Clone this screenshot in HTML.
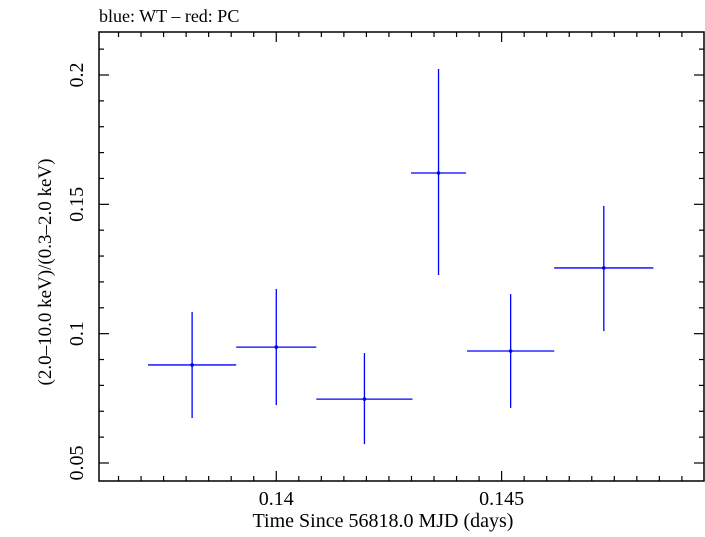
<!DOCTYPE html>
<html><head><meta charset="utf-8"><style>
body{margin:0;background:#fff;}
text{font-family:"Liberation Serif",serif;fill:#000;}
</style></head><body>
<svg id="chart" width="705" height="532" xmlns="http://www.w3.org/2000/svg">
<text x="99" y="22" font-size="18">blue: WT – red: PC</text>
<rect x="99" y="32" width="605" height="449" fill="none" stroke="#000" stroke-width="1.5"/>
<g id="ticks"></g>
<g id="series"></g>
<text x="383" y="527" font-size="20" text-anchor="middle">Time Since 56818.0 MJD (days)</text>
<text transform="translate(51,272) rotate(-90)" font-size="19" text-anchor="middle">(2.0–10.0 keV)/(0.3–2.0 keV)</text>
</svg>
<script>
const xCenters=[0.138133,0.14,0.141956,0.1436,0.1452,0.147267];
const xHalfWidths=[0.000978,0.000889,0.001067,0.000611,0.000967,0.0011];
const ratios=[0.0879,0.0948,0.0747,0.1621,0.0933,0.1254];
const ratioUpper=[0.1084,0.1173,0.0925,0.2023,0.1153,0.1494];
const ratioLower=[0.0674,0.0724,0.0573,0.1227,0.0713,0.101];
const xTickLabels=["0.14","0.145"];
const yTickLabels=["0.05","0.1","0.15","0.2"];
const L=99,R=704,T=32,B=481;
const x0=0.136067,x1=0.14949,y0=0.04304,y1=0.21662;
const X=v=>L+(v-x0)/(x1-x0)*(R-L);
const Y=v=>B-(v-y0)/(y1-y0)*(B-T);
const NS="http://www.w3.org/2000/svg";
function mk(tag,attrs,parent){const e=document.createElementNS(NS,tag);for(const k in attrs)e.setAttribute(k,attrs[k]);parent.appendChild(e);return e;}
const tg=document.getElementById('ticks');
for(let i=Math.ceil(x0/0.0005);i*0.0005<=x1;i++){
  const v=i*0.0005,major=i%10===0,len=major?10:5,px=X(v);
  const t1=mk('line',{x1:px,x2:px,y1:B,y2:B-len,stroke:'#000','stroke-width':1.2},tg);
  
  
  const t2=mk('line',{x1:px,x2:px,y1:T,y2:T+len,stroke:'#000','stroke-width':1.2},tg);
  
  
}
xTickLabels.forEach(s=>{
  const t=mk('text',{x:X(parseFloat(s)),y:505,'font-size':20,'text-anchor':'middle'},tg);
  t.textContent=s;
  
  
});
for(let i=Math.ceil(y0/0.01);i*0.01<=y1;i++){
  const v=i*0.01,major=i%5===0,len=major?10:5,py=Y(v);
  const t1=mk('line',{x1:L,x2:L+len,y1:py,y2:py,stroke:'#000','stroke-width':1.2},tg);
  
  
  const t2=mk('line',{x1:R,x2:R-len,y1:py,y2:py,stroke:'#000','stroke-width':1.2},tg);
  
  
}
yTickLabels.forEach(s=>{
  const py=Y(parseFloat(s));
  const t=mk('text',{transform:`translate(83,${py}) rotate(-90)`,'font-size':20,'text-anchor':'middle'},tg);
  t.textContent=s;
  
  
});
const sg=document.getElementById('series');
ratios.forEach((r,i)=>{
  const g=mk('g',{},sg);
  
  
  const cx=X(xCenters[i]),cy=Y(r);
  mk('line',{x1:X(xCenters[i]-xHalfWidths[i]),x2:X(xCenters[i]+xHalfWidths[i]),y1:cy,y2:cy,stroke:'#0000ff','stroke-width':1.3},g);
  mk('line',{x1:cx,x2:cx,y1:Y(ratioUpper[i]),y2:Y(ratioLower[i]),stroke:'#0000ff','stroke-width':1.3},g);
  mk('circle',{cx:cx,cy:cy,r:1.8,fill:'#0000ff'},g);
});
</script>
</body></html>
